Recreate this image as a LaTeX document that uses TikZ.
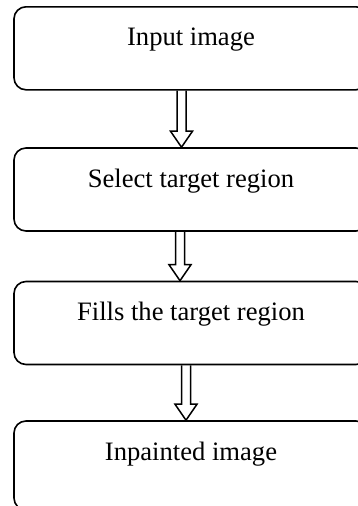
\documentclass[tikz,border=0pt]{standalone}
\usepackage{fontspec}
\setmainfont{Liberation Serif}
\usepackage{tikz}
\usetikzlibrary{calc}

\begin{document}
\begin{tikzpicture}[x=1pt, y=-1pt,
  box/.style={draw, rounded corners=12pt, line width=1.6pt, minimum width=354pt,
    minimum height=83pt, text height=18pt, text depth=23pt,
    font=\fontsize{26.6pt}{30pt}\selectfont},
  hollow/.style={draw, line width=1.5pt, line join=miter}]
\useasboundingbox (0,0) rectangle (358,506);
\clip (0,0) rectangle (358,506);
%%% Draws boxes
\node[box] (input) at (191,48.3) {Input image};
\node[box] (select) at (191,189.5) {Select target region};
\node[box] (fill) at (191,323) {Fills the target region};
\node[box, minimum height=89pt, text depth=29pt] (inpaint) at (191,465.5) {Inpainted image};
%%% Draws hollow arrows
\foreach \a/\b/\dx in {input/select/-9.5, select/fill/-11, fill/inpaint/-5}
{
\draw[hollow] ($(\a.south)+(\dx-4.5,0)$) -- ($(\b.north)+(\dx-4.5,-16)$) -- ++(-6.5,0)
  -- ($(\b.north)+(\dx,0)$) -- ($(\b.north)+(\dx+11,-16)$) -- ++(-6.5,0)
  -- ($(\a.south)+(\dx+4.5,0)$);
}
\end{tikzpicture}
\end{document}
